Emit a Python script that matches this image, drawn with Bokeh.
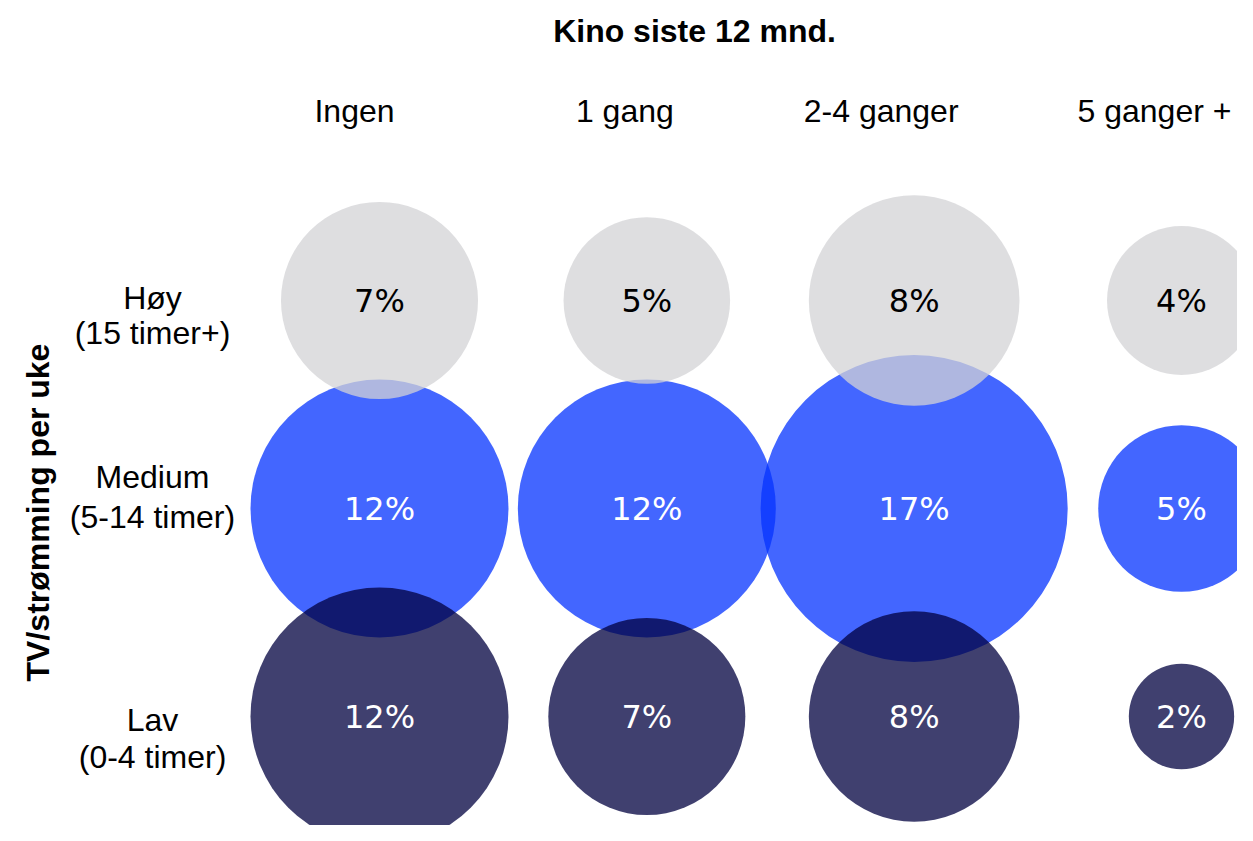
import math
from bokeh.plotting import figure
from bokeh.models import ColumnDataSource, Range1d
from bokeh.core.properties import value
from bokeh.embed import file_html
from bokeh.resources import INLINE

# ---- data ----
title = "Kino siste 12 mnd."
y_title = "TV/strømming per uke"
columns = ["Ingen", "1 gang", "2-4 ganger", "5 ganger +"]
rows = ["Lav", "Medium", "Høy"]              # bottom -> top
row_sub = ["(0-4 timer)", "(5-14 timer)", "(15 timer+)"]
hoy = [7, 5, 8, 4]
medium = [12, 12, 17, 5]
lav = [12, 7, 8, 2]

# ---- styling ----
W, H = 1237, 825
PX_X = 267.33   # px per column unit
PX_Y = 208.0    # px per row unit
X0, Y0 = 379, 716   # pixel position of first column / bottom row
R12 = 129.0     # radius (px) of a 12% bubble, area-proportional
ARIAL = value("Liberation Sans")
VERD = value("DejaVu Sans")
FS = "32px"
FSP = "32px"
hdr_offsets = [-25, -22, -33, -27]   # header shift (px) relative to bubble centre

p = figure(width=W, height=H, output_backend="svg", toolbar_location=None,
           x_range=Range1d(-X0 / PX_X, (W - X0) / PX_X),
           y_range=Range1d((Y0 - H) / PX_Y, Y0 / PX_Y),
           x_axis_location=None, y_axis_location=None, min_border=0)
p.grid.visible = False
p.outline_line_color = None
p.background_fill_color = "white"
p.border_fill_color = "white"

xs = list(range(len(columns)))

series = [  # draw order: medium, høy, lav
    (medium, 1, "#0433ff", "white"),
    (hoy, 2, "#d3d3d6", "black"),
    (lav, 0, "#00003f", "white"),
]
for vals, row, color, tcolor in series:
    src = ColumnDataSource(dict(
        x=xs, y=[row] * len(xs),
        r=[R12 * math.sqrt(v / 12.0) for v in vals]))
    p.circle(x="x", y="y", radius="r", radius_units="screen", source=src,
             fill_color=color, fill_alpha=0.75, line_color=None)
for vals, row, color, tcolor in series:
    src = ColumnDataSource(dict(x=xs, y=[row] * len(xs),
                                label=[f"{v}%" for v in vals]))
    p.text(x="x", y="y", text="label", source=src, text_align="center",
           text_baseline="middle", text_font=VERD, text_font_size=FSP,
           text_color=tcolor)

# column headers
hdr = ColumnDataSource(dict(x=xs, y=[(Y0 - 110) / PX_Y] * len(xs), t=columns,
                            dx=hdr_offsets))
p.text(x="x", y="y", text="t", source=hdr, text_align="center",
       text_baseline="middle", text_font=ARIAL, text_font_size=FS,
       text_color="black", x_offset="dx")

# row labels (two lines each); px below row centre (Lav, Medium, Høy)
line1_off = [3, -32, -3]
line2_off = [40, 8, 32]
rx = [(152 - X0) / PX_X] * 3
p.text(x=rx, y=[r - o / PX_Y for r, o in zip(range(3), line1_off)], text=rows,
       text_align="center", text_baseline="middle", text_font=ARIAL,
       text_font_size=FS, text_color="black")
p.text(x=rx, y=[r - o / PX_Y for r, o in zip(range(3), line2_off)], text=row_sub,
       text_align="center", text_baseline="middle", text_font=ARIAL,
       text_font_size=FS, text_color="black")

# titles
p.text(x=[(694 - X0) / PX_X], y=[(Y0 - 30) / PX_Y], text=[title],
       text_align="center", text_baseline="middle", text_font=ARIAL,
       text_font_size=FS, text_font_style="bold", text_color="black")
p.text(x=[(37 - X0) / PX_X], y=[(Y0 - 512) / PX_Y], text=[y_title],
       text_align="center", text_baseline="middle", text_font=ARIAL,
       text_font_size=FS, text_font_style="bold", text_color="black",
       angle=math.pi / 2)

open("out.html", "w").write(file_html(p, INLINE))
